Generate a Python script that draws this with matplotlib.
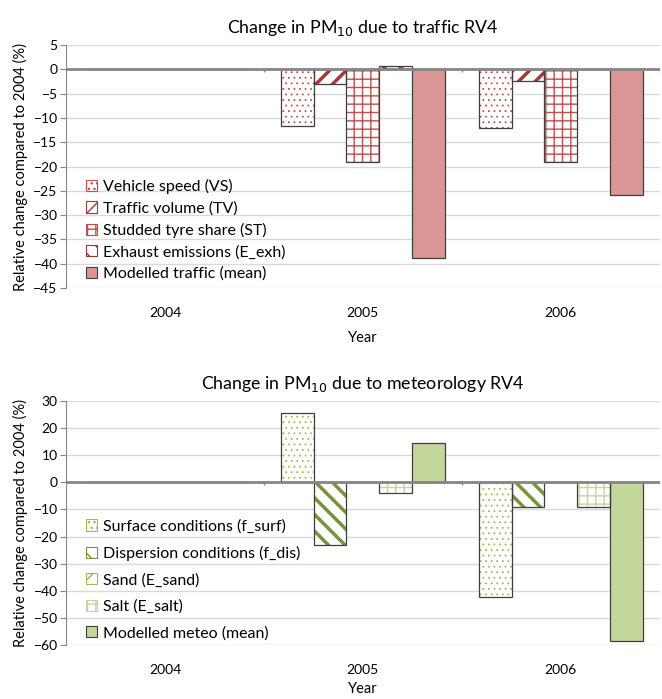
import numpy as np
import matplotlib
matplotlib.use("Agg")
import matplotlib.pyplot as plt
from matplotlib.patches import Patch

plt.rcParams['font.family'] = ['Lato', 'DejaVu Sans']
plt.rcParams['hatch.linewidth'] = 1.0

years = ['2004', '2005', '2006']

# traffic (top)
traffic_labels = ['Vehicle speed (VS)', 'Traffic volume (TV)', 'Studded tyre share (ST)',
                  'Exhaust emissions (E_exh)', 'Modelled traffic (mean)']
vs = [0, -11.7, -12.1]
tv = [0, -3.0, -2.4]
st = [0, -19.1, -19.1]
e_exh = [0, 0.7, 0.0]
traffic_mean = [0, -38.8, -25.8]

# meteorology (bottom)
meteo_labels = ['Surface conditions (f_surf)', 'Dispersion conditions (f_dis)',
                'Sand (E_sand)', 'Salt (E_salt)', 'Modelled meteo (mean)']
f_surf = [0, 25.7, -42.2]
f_dis = [0, -23.3, -9.0]
e_sand = [0, 0.0, 0.0]
e_salt = [0, -3.9, -9.0]
meteo_mean = [0, 14.6, -58.7]

# (hatch, hatch colour, face colour, hatch linewidth)
traffic_style = [('...', '#c0504d', 'white', 0.6),
                 ('//', '#a33b38', 'white', 2.5),
                 ('++', '#c0504d', 'white', 1.0),
                 ('\\\\', '#943634', 'white', 2.5),
                 (None, None, '#d99694', 1.0)]
meteo_style = [('...', '#9bbb59', 'white', 0.6),
               ('\\\\', '#77933c', 'white', 2.5),
               ('/', '#9bbb59', 'white', 0.8),
               ('++', '#c3d69b', 'white', 1.0),
               (None, None, '#c3d69b', 1.0)]


def panel(ax, series, labels, styles, ylim, step, title, lspace, ypad, lbottom):
    x = np.arange(len(years))
    n = len(series)
    w = 0.83 / n
    handles = []
    for i, (vals, lab, sty) in enumerate(zip(series, labels, styles)):
        hatch, hc, fc, hlw = sty
        pos = x - 0.415 + w * (i + 0.5)
        if hatch:
            bars = ax.bar(pos, vals, w, color=fc, edgecolor=hc, hatch=hatch, linewidth=0, zorder=3)
            for b in bars:
                if hasattr(b, 'set_hatch_linewidth'):
                    b.set_hatch_linewidth(hlw)
        else:
            ax.bar(pos, vals, w, color=fc, linewidth=0, zorder=3)
        ax.bar(pos, vals, w, fill=False, edgecolor='#3f3f3f', linewidth=0.9, zorder=4)
        p = Patch(facecolor=fc, edgecolor=hc if hc else '#3f3f3f', hatch=hatch, linewidth=0.8)
        if hatch and hasattr(p, 'set_hatch_linewidth'):
            p.set_hatch_linewidth(hlw)
        handles.append(p)
    ax.set_xlim(-0.5, 2.5)
    ax.set_ylim(*ylim)
    ax.set_yticks(np.arange(ylim[0], ylim[1] + 0.1, step))
    ax.yaxis.grid(True, color='#d9d9d9', linewidth=1.0, zorder=0)
    ax.axhline(0, color='#868686', linewidth=2.0, zorder=5)
    ax.vlines([0.5, 1.5, 2.5], 0, -(ylim[1] - ylim[0]) * 0.012, color='#868686', linewidth=1.0, zorder=5)
    ax.set_xticks(x)
    ax.set_xticklabels(years)
    ax.tick_params(axis='x', length=0, pad=14, labelsize=10)
    ax.tick_params(axis='y', length=4, color='#868686', labelsize=10, pad=2)
    for s in ['top', 'right', 'bottom']:
        ax.spines[s].set_visible(False)
    ax.spines['left'].set_color('#868686')
    ax.set_title(title, fontsize=12.8, pad=9)
    ax.set_xlabel('Year', fontsize=10.5, labelpad=ypad)
    ax.set_ylabel('Relative change compared to 2004 (%)', fontsize=10.5, labelpad=4)
    ax.legend(handles, labels, loc='lower left', bbox_to_anchor=(0.018, lbottom), frameon=False,
              fontsize=11.5, handlelength=0.7, handleheight=0.7, handletextpad=0.35,
              labelspacing=lspace, borderaxespad=0.2)


fig = plt.figure(figsize=(6.62, 6.99), dpi=100)
ax1 = fig.add_axes([0.0997, 0.588, 0.897, 0.3476])
ax2 = fig.add_axes([0.0997, 0.0773, 0.897, 0.349])

panel(ax1, [vs, tv, st, e_exh, traffic_mean], traffic_labels, traffic_style,
      (-45, 5), 5, 'Change in PM$_{10}$ due to traffic RV4', 0.45, 8, -0.01)
panel(ax2, [f_surf, f_dis, e_sand, e_salt, meteo_mean], meteo_labels, meteo_style,
      (-60, 30), 10, 'Change in PM$_{10}$ due to meteorology RV4', 0.76, 4, -0.02)

fig.savefig('out.png', dpi=100)
